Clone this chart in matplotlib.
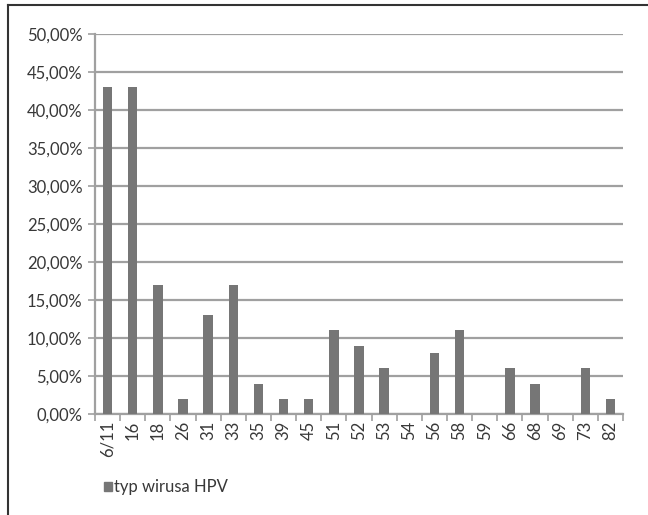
import matplotlib.pyplot as plt
import numpy as np
from matplotlib.lines import Line2D
from matplotlib.patches import Rectangle

plt.rcParams['font.family'] = ['Lato', 'DejaVu Sans']

typy = ["6/11", "16", "18", "26", "31", "33", "35", "39", "45", "51", "52",
        "53", "54", "56", "58", "59", "66", "68", "69", "73", "82"]
procent = [43, 43, 17, 2, 13, 17, 4, 2, 2, 11, 9,
           6, 0, 8, 11, 0, 6, 4, 0, 6, 2]
y_ticks = [0, 5, 10, 15, 20, 25, 30, 35, 40, 45, 50]

kolor_slupka = "#767676"
kolor_siatki = "#a0a0a0"
kolor_tekstu = "#383838"

fig = plt.figure(figsize=(6.48, 5.15), dpi=100)
ax = fig.add_axes([95 / 648, 1 - 414 / 515, 528 / 648, 380 / 515])

x = np.arange(len(typy))
ax.bar(x, procent, width=0.38, color=kolor_slupka, zorder=3)

ax.set_xlim(-0.5, len(typy) - 0.5)
ax.set_ylim(0, 50)
ax.set_yticks(y_ticks)
ax.set_yticklabels([f"{v},00%" for v in y_ticks], fontsize=12, color=kolor_tekstu)
ax.yaxis.grid(True, color=kolor_siatki, linewidth=1.6, zorder=0)

# etykiety kategorii pod słupkami, kreski podziałki na granicach kategorii
ax.set_xticks(x)
ax.set_xticklabels(typy, rotation=90, fontsize=12, color=kolor_tekstu)
ax.tick_params(axis='x', length=0, pad=5)
ax.set_xticks(np.arange(-0.5, len(typy)), minor=True)
ax.tick_params(axis='x', which='minor', length=5, width=1.2, color=kolor_siatki)
ax.tick_params(axis='y', length=5, width=1.2, color=kolor_siatki, pad=4)

for s in ["top", "right"]:
    ax.spines[s].set_visible(False)
for s in ["left", "bottom"]:
    ax.spines[s].set_color(kolor_siatki)
    ax.spines[s].set_linewidth(1.6)

# legenda
fig.patches.append(Rectangle((104 / 648, 1 - 491 / 515), 8 / 648, 9 / 515,
                             transform=fig.transFigure, color=kolor_slupka))
fig.text(114 / 648, 1 - 487 / 515, "typ wirusa HPV", fontsize=12,
         color=kolor_tekstu, va="center")

# ramka wykresu (góra i lewa krawędź)
fig.lines.append(Line2D([8 / 648, 1], [1 - 5 / 515, 1 - 5 / 515],
                        transform=fig.transFigure, color="#333333", linewidth=1.5))
fig.lines.append(Line2D([8 / 648, 8 / 648], [0, 1 - 5 / 515],
                        transform=fig.transFigure, color="#333333", linewidth=1.5))

fig.savefig("out.png", dpi=100)
